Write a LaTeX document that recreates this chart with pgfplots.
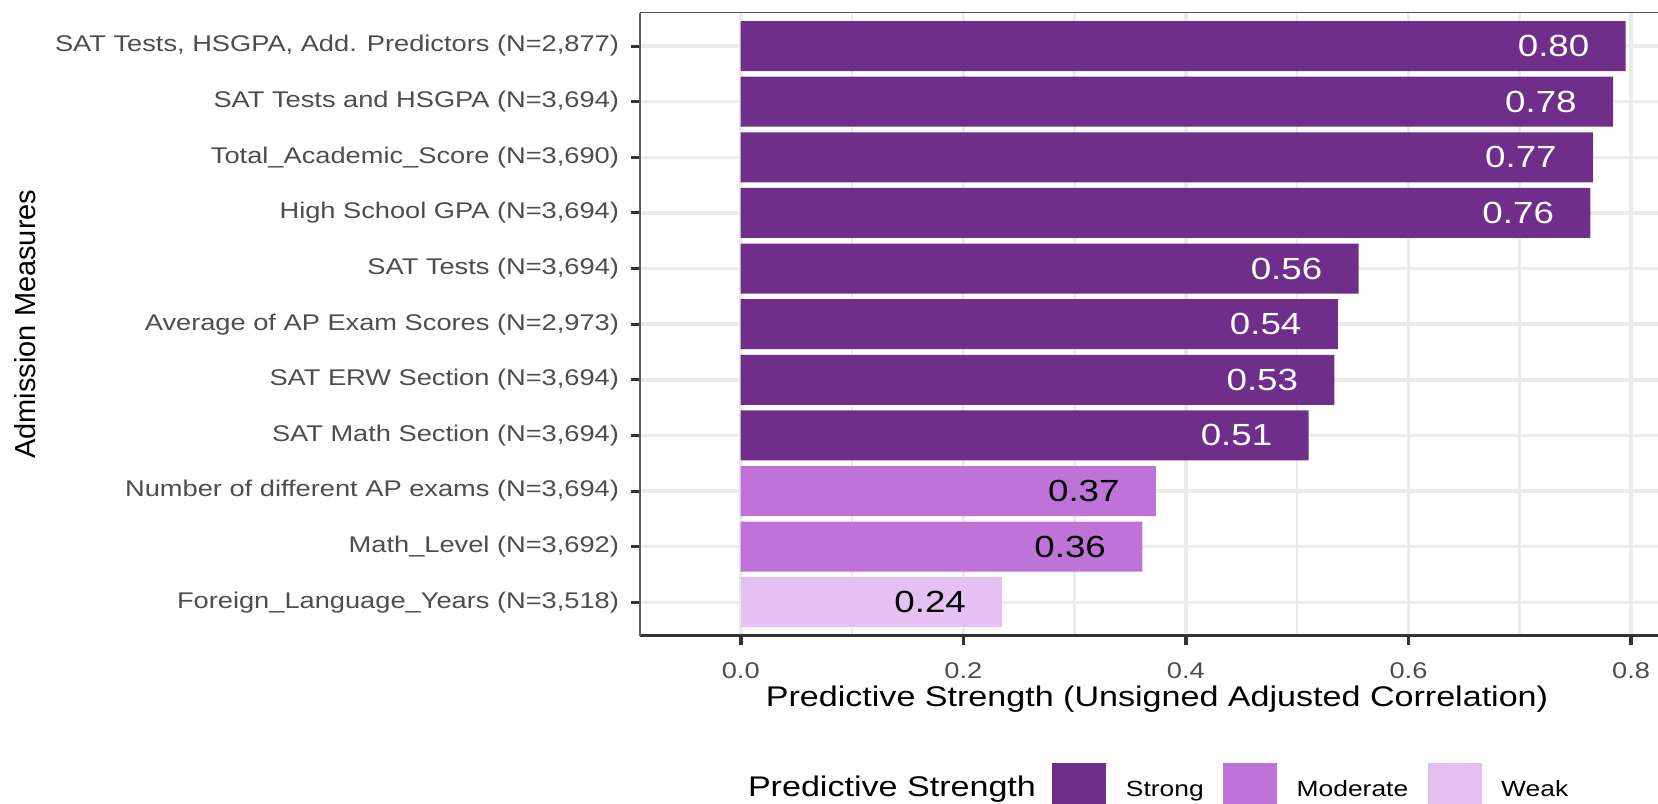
\documentclass[border=0pt]{standalone}
\usepackage{fontspec}
\setmainfont{Liberation Sans}[FakeStretch=1.2]
\newfontfamily\plainfont{Liberation Sans}
\usepackage{pgfplots}
\usepackage{pgfplotstable}
\pgfplotsset{compat=1.18}
\definecolor{strong}{RGB}{111,46,137}
\definecolor{moderate}{RGB}{191,115,217}
\definecolor{weak}{RGB}{228,193,242}
\definecolor{gridc}{RGB}{235,235,235}
\definecolor{tickc}{RGB}{77,77,77}
\definecolor{axc}{RGB}{51,51,51}

\pgfplotstableread{
y x lab
11 0.7952 0.80
10 0.7838 0.78
9 0.7658 0.77
8 0.7634 0.76
7 0.5552 0.56
6 0.5365 0.54
5 0.5335 0.53
4 0.5103 0.51
}\strongdata
\pgfplotstableread{
y x lab
3 0.3731 0.37
2 0.3608 0.36
}\moderatedata
\pgfplotstableread{
y x lab
1 0.2350 0.24
}\weakdata

\pgfplotsset{
  keybox/.style={legend image code/.code={\fill[##1] (0pt,-13.5pt) rectangle (27pt,13.5pt);}},
  barstyle/.style={xbar, bar width=0.9, bar shift=0pt, draw=none, forget plot,
    point meta=explicit symbolic, nodes near coords,
    nodes near coords align={anchor=east},
    every node near coord/.append style={anchor=east, xshift=-18pt, inner sep=0pt,
      font=\fontsize{15.3}{18}\selectfont, text=#1}},
}

\begin{document}
\begin{tikzpicture}
\useasboundingbox (0,0) rectangle (829pt,401.5pt);
\begin{axis}[
  at={(320pt,83.65pt)}, anchor=south west,
  scale only axis, width=517pt, height=311.5pt,
  xmin=-0.0905, xmax=0.8386, ymin=0.4, ymax=11.6,
  axis x line=bottom, axis y line=left,
  x axis line style={-, line width=1.6pt, color=axc},
  y axis line style={-, line width=0.9pt, color=axc!80},
  xtick={0,0.2,0.4,0.6,0.8}, xticklabels={0.0,0.2,0.4,0.6,0.8},
  minor xtick={0.1,0.3,0.5,0.7},
  ytick={1,2,3,4,5,6,7,8,9,10,11},
  yticklabels={
    Foreign\_Language\_Years (N=3{,}518),
    Math\_Level (N=3{,}692),
    Number of different AP exams (N=3{,}694),
    SAT Math Section (N=3{,}694),
    SAT ERW Section (N=3{,}694),
    Average of AP Exam Scores (N=2{,}973),
    SAT Tests (N=3{,}694),
    High School GPA (N=3{,}694),
    Total\_Academic\_Score (N=3{,}690),
    SAT Tests and HSGPA (N=3{,}694),
    {SAT Tests, HSGPA, Add. Predictors (N=2,877)}},
  tick align=outside, major tick length=4.5pt, minor tick length=0pt,
  xtick style={line width=1.8pt, color=axc},
  ytick style={line width=1.5pt, color=axc},
  xmajorgrids, xminorgrids, ymajorgrids,
  major grid style={gridc, line width=1.8pt},
  minor grid style={gridc, line width=1.3pt},
  /pgf/number format/assume math mode=true,
  ticklabel style={font=\fontsize{11.35}{13}\selectfont, text=tickc, inner sep=0pt},
  yticklabel style={anchor=east, xshift=-5.8pt},
  xticklabel style={anchor=north, yshift=-8.65pt},
  xlabel={Predictive Strength (Unsigned Adjusted Correlation)},
  xlabel style={at={(axis description cs:0.5,-0.11284)}, anchor=base,
    font=\fontsize{14.2}{17}\selectfont, inner sep=0pt},
  ylabel={Admission Measures},
  ylabel style={at={(axis description cs:-0.5948,0.5)}, anchor=center,
    font=\plainfont\fontsize{14.5}{17}\selectfont, inner sep=0pt},
  legend columns=-1,
  legend cell align=left,
  legend style={at={(axis description cs:0.10445,-0.2477)}, anchor=west,
    draw=none, fill=none, inner sep=0pt, outer sep=0pt, column sep=0pt,
    nodes={inner sep=0pt, text depth=2.5pt, text height=8.5pt,
      font=\fontsize{11}{13}\selectfont},
    /tikz/column 1/.style={column sep=0pt},
    /tikz/column 2/.style={column sep=8pt},
    /tikz/column 3/.style={column sep=10pt},
    /tikz/column 4/.style={column sep=9.5pt},
    /tikz/column 5/.style={column sep=10pt},
    /tikz/column 6/.style={column sep=10pt},
    /tikz/column 7/.style={column sep=9.5pt}},
  after end axis/.code={\draw[axc!85, line width=0.7pt] (rel axis cs:0,1) -- (rel axis cs:1,1);},
]
\addlegendimage{empty legend}
\addlegendentry{\fontsize{14.2}{17}\selectfont Predictive Strength}
\addlegendimage{keybox, fill=strong, draw=none}
\addlegendentry{Strong}
\addlegendimage{keybox, fill=moderate, draw=none}
\addlegendentry{Moderate}
\addlegendimage{keybox, fill=weak, draw=none}
\addlegendentry{Weak}

\addplot[barstyle=white, fill=strong] table[x=x, y=y, meta=lab] {\strongdata};
\addplot[barstyle=black, fill=moderate] table[x=x, y=y, meta=lab] {\moderatedata};
\addplot[barstyle=black, fill=weak] table[x=x, y=y, meta=lab] {\weakdata};
\end{axis}
\end{tikzpicture}
\end{document}
